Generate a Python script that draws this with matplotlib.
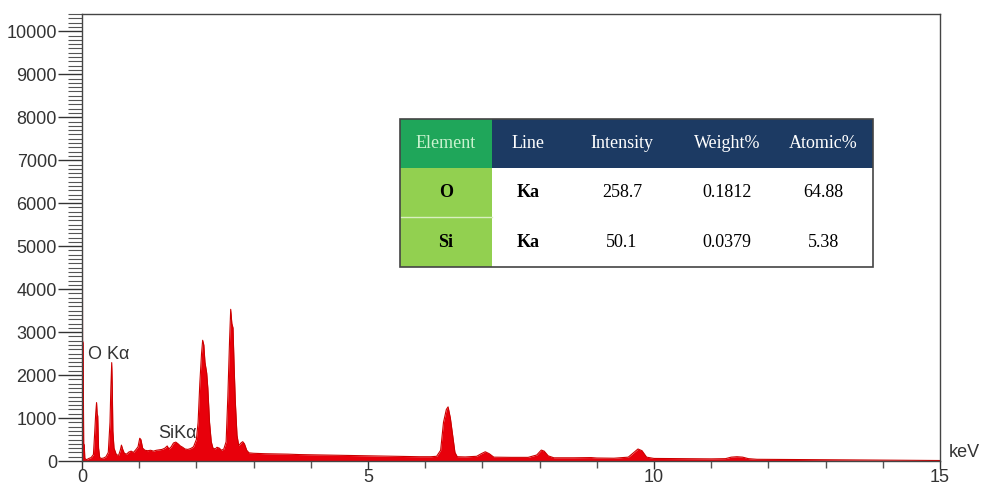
import numpy as np
import matplotlib.pyplot as plt
from matplotlib.ticker import MultipleLocator
from matplotlib.patches import Rectangle

plt.rcParams['font.family'] = ['Liberation Sans', 'DejaVu Sans']

# EDS spectrum (energy in keV, counts)
energy = [0.000, 0.005, 0.010, 0.020, 0.030, 0.040, 0.050, 0.080, 0.120, 0.160,
          0.200, 0.220, 0.240, 0.255, 0.265, 0.275, 0.290, 0.310, 0.340, 0.380,
          0.420, 0.460, 0.490, 0.505, 0.520, 0.530, 0.540, 0.560, 0.600, 0.640,
          0.670, 0.690, 0.710, 0.740, 0.780, 0.820, 0.860, 0.900, 0.940, 0.980,
          1.010, 1.030, 1.060, 1.100, 1.150, 1.200, 1.250, 1.300, 1.350, 1.400,
          1.450, 1.490, 1.520, 1.560, 1.600, 1.640, 1.680, 1.720, 1.760, 1.800,
          1.850, 1.900, 1.950, 2.000, 2.030, 2.060, 2.090, 2.110, 2.130, 2.150,
          2.180, 2.200, 2.230, 2.260, 2.290, 2.330, 2.360, 2.400, 2.440, 2.480,
          2.520, 2.550, 2.580, 2.600, 2.620, 2.640, 2.660, 2.680, 2.710, 2.740,
          2.780, 2.810, 2.840, 2.880, 2.920, 3.000, 3.200, 3.400, 3.600, 3.800,
          4.000, 4.300, 4.600, 5.000, 5.300, 5.600, 5.900, 6.100, 6.200, 6.270,
          6.320, 6.370, 6.400, 6.440, 6.480, 6.520, 6.560, 6.700, 6.900, 6.980,
          7.050, 7.120, 7.200, 7.500, 7.800, 7.950, 8.030, 8.080, 8.150, 8.250,
          8.600, 8.900, 9.000, 9.300, 9.550, 9.650, 9.720, 9.790, 9.870, 10.000,
          10.500, 11.000, 11.250, 11.350, 11.450, 11.550, 11.650, 11.800, 12.500, 13.000,
          13.500, 14.000, 14.500, 15.000]
counts = [10000, 10000, 2800, 2750, 400, 380, 60, 30, 60, 80,
          150, 600, 1100, 1360, 1100, 1050, 300, 80, 60, 70,
          100, 200, 900, 1700, 2290, 1700, 700, 300, 150, 130,
          250, 370, 280, 180, 160, 210, 230, 200, 260, 330,
          530, 500, 300, 250, 240, 250, 230, 250, 260, 270,
          300, 350, 280, 330, 420, 440, 400, 350, 320, 280,
          270, 290, 330, 500, 900, 1800, 2500, 2810, 2700, 2300,
          2050, 1700, 900, 450, 300, 280, 320, 300, 250, 280,
          450, 1500, 2800, 3530, 3200, 3100, 2200, 1400, 600, 360,
          420, 450, 400, 250, 190, 180, 170, 165, 160, 150,
          145, 140, 130, 120, 110, 105, 100, 100, 110, 250,
          900, 1200, 1260, 1000, 600, 200, 100, 95, 110, 170,
          215, 170, 90, 85, 85, 140, 255, 230, 120, 75,
          75, 80, 70, 65, 90, 200, 280, 240, 90, 60,
          55, 50, 55, 90, 100, 90, 55, 40, 35, 30,
          25, 20, 15, 12]

peak_labels = ['O K\u03b1', 'SiK\u03b1']
peak_label_x = [0.10, 1.33]
peak_label_y = [2490, 630]

# quantification table
col_labels = ['Element', 'Line', 'Intensity', 'Weight%', 'Atomic%']
elements = ['O', 'Si']
lines = ['Ka', 'Ka']
intensity = ['258.7', '50.1']
weight = ['0.1812', '0.0379']
atomic = ['64.88', '5.38']

fig = plt.figure(figsize=(9.84, 4.86), dpi=100)
ax = fig.add_axes([0.0833, 0.0514, 0.872, 0.9196])

ax.fill_between(energy, counts, 0, color='#e8000b', linewidth=0)
ax.plot(energy, counts, color='#cc0000', linewidth=0.8)

ax.set_xlim(0, 15)
ax.set_ylim(0, 10400)
ax.xaxis.set_major_locator(MultipleLocator(5))
ax.xaxis.set_minor_locator(MultipleLocator(1))
ax.yaxis.set_major_locator(MultipleLocator(1000))
ax.yaxis.set_minor_locator(MultipleLocator(100))
ax.tick_params(axis='y', which='major', length=17, width=1, labelsize=13,
               colors='#333333', pad=1)
ax.tick_params(axis='y', which='minor', length=10, width=0.8, color='#555555')
ax.tick_params(axis='x', which='major', length=6, width=1, labelsize=13,
               colors='#333333', pad=0)
ax.tick_params(axis='x', which='minor', length=5, width=1, color='#555555')
for s in ax.spines.values():
    s.set_color('#444444')
    s.set_linewidth(1)

for lab, lx, ly in zip(peak_labels, peak_label_x, peak_label_y):
    ax.text(lx, ly, lab, fontsize=13, color='#333333', va='center', ha='left')

fig.text(0.964, 0.068, 'keV', fontsize=13, color='#333333', ha='left', va='center')

# table drawn in figure pixel coordinates
W, H = 984, 486
col_edges = [400, 492, 564, 680, 774, 873]
row_edges = [119, 168, 217, 267]
rows = [col_labels] + [list(r) for r in zip(elements, lines, intensity, weight, atomic)]


def fx(px):
    return px / W


def fy(py):
    return 1 - py / H


for i in range(3):
    for j in range(5):
        x0, x1 = col_edges[j], col_edges[j + 1]
        y0, y1 = row_edges[i], row_edges[i + 1]
        if i == 0:
            fc = '#1fa65a' if j == 0 else '#1c3a63'
            tc = '#c9f2cf' if j == 0 else 'white'
            bold = False
        else:
            fc = '#92d050' if j == 0 else 'white'
            tc = 'black'
            bold = j < 2
        fig.patches.append(Rectangle((fx(x0), fy(y1)), fx(x1 - x0), (y1 - y0) / H,
                                     transform=fig.transFigure, facecolor=fc,
                                     edgecolor='none', zorder=3))
        fig.text(fx((x0 + x1) / 2), fy((y0 + y1) / 2), rows[i][j],
                 family=['Liberation Serif', 'DejaVu Serif'], fontsize=13,
                 color=tc, ha='center', va='center',
                 fontweight='bold' if bold else 'normal', zorder=4)

fig.lines.append(plt.Line2D([fx(400), fx(492)], [fy(217), fy(217)],
                            transform=fig.transFigure, color='#d8efc0', lw=1, zorder=4))
fig.patches.append(Rectangle((fx(400), fy(267)), fx(873 - 400), (267 - 119) / H,
                             transform=fig.transFigure, facecolor='none',
                             edgecolor='#444444', linewidth=1.2, zorder=5))

plt.savefig('out.png', dpi=100)
